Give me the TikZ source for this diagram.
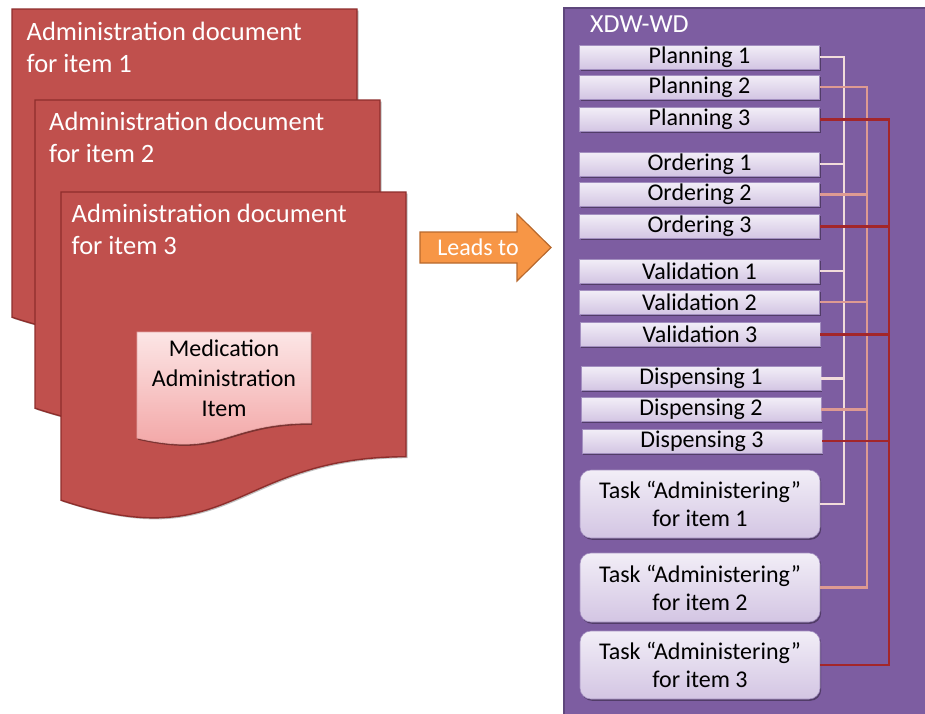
\documentclass[tikz,border=0pt]{standalone}
\usepackage{fontspec}
\setmainfont{Carlito}
\usetikzlibrary{shadows}
\definecolor{docred}{HTML}{C0504D}
\definecolor{docedge}{HTML}{8E2E2C}
\definecolor{panelfill}{HTML}{7D5DA1}
\definecolor{paneledge}{HTML}{5E477C}
\definecolor{itemtop}{HTML}{F2EEF7}
\definecolor{itembot}{HTML}{D3C5E3}
\definecolor{itemedge}{HTML}{A38FC0}
\definecolor{lineA}{HTML}{F2DCDB}
\definecolor{lineB}{HTML}{DE9A92}
\definecolor{lineC}{HTML}{A3262A}
\definecolor{arrfill}{HTML}{F79646}
\definecolor{arredge}{HTML}{B8682C}
\definecolor{medtop}{HTML}{FCE6E6}
\definecolor{medbot}{HTML}{F2A0A0}
\definecolor{mededge}{HTML}{E3A3A3}
\begin{document}
\begin{tikzpicture}[x=1pt,y=-1pt,
  docstyle/.style={fill=docred,draw=docedge,line width=1.4pt,
    drop shadow={shadow xshift=1.5pt,shadow yshift=-1.5pt,opacity=0.25,fill=black}},
  doctext/.style={anchor=north west,inner sep=0pt,align=left,text=white,
    font=\fontsize{26.5}{32}\selectfont},
  itembox/.style={draw=itemedge,line width=0.6pt,top color=itemtop,bottom color=itembot,
    minimum width=240pt,minimum height=24pt,inner sep=0pt,
    font=\fontsize{24}{28}\selectfont,
    drop shadow={shadow xshift=1.2pt,shadow yshift=-1.8pt,opacity=0.35,fill=black}},
  taskbox/.style={itembox,rounded corners=11pt,align=center,minimum height=68pt},
  busA/.style={draw=lineA,line width=2.1pt},
  busB/.style={draw=lineB,line width=2.1pt},
  busC/.style={draw=lineC,line width=2.1pt}]
\useasboundingbox (0,0) rectangle (925,713);
\begin{scope}
\clip (0,0) rectangle (925,713);

% ---------- left: administration documents ----------
\path[docstyle] (12,9) -- (357,9) -- (357,273.7)
  .. controls (184.5,273.7) and (184.5,374.6) .. (12,317.2) -- cycle;
\node[doctext] (d1) at (26.5,21.5) {Administration document\\for item 1};

\path[docstyle] (35,100) -- (380,100) -- (380,364.7)
  .. controls (207.5,364.7) and (207.5,465.6) .. (35,408.2) -- cycle;
\node[doctext] (d2) at (49,111.5) {Administration document\\for item 2};

\path[docstyle] (61,192) -- (406,192) -- (406,456.7)
  .. controls (233.5,456.7) and (233.5,557.6) .. (61,500.2) -- cycle;
\node[doctext] (d3) at (71.5,203.5) {Administration document\\for item 3};

% medication administration item
\path[draw=mededge,line width=0.6pt,top color=medtop,bottom color=medbot,
  drop shadow={shadow xshift=1.2pt,shadow yshift=-1.8pt,opacity=0.35,fill=black}]
  (137,332) -- (311,332) -- (311,423)
  .. controls (224,423) and (224,457.8) .. (137,438) -- cycle;
\node[align=center,inner sep=0pt,font=\fontsize{24}{30}\selectfont] (mi) at (224,378)
  {Medication\\Administration\\Item};

% ---------- arrow ----------
\path[fill=arrfill,draw=arredge,line width=1.2pt,line join=miter]
  (420,232) -- (517,232) -- (517,214) -- (551,247.5) -- (517,281) -- (517,263) -- (420,263) -- cycle;
\node[text=white,inner sep=0pt,font=\fontsize{24}{28}\selectfont] (lt) at (478,247) {Leads to};

% ---------- right: XDW-WD panel ----------
\fill[panelfill] (564,8) rectangle (940,730);
\draw[paneledge,line width=2pt] (564,730) -- (564,8) -- (940,8);
\node[anchor=base west,inner sep=0pt,text=white,font=\fontsize{26}{30}\selectfont] (xw) at (590,32) {XDW-WD};

\node[itembox] (P1) at (699.5,57) {Planning 1};
\node[itembox] (P2) at (699.5,87) {Planning 2};
\node[itembox] (P3) at (699.5,119.5) {Planning 3};
\node[itembox] (O1) at (699.5,164) {Ordering 1};
\node[itembox] (O2) at (699.5,194.5) {Ordering 2};
\node[itembox] (O3) at (699.5,226.5) {Ordering 3};
\node[itembox] (V1) at (699.5,271) {Validation 1};
\node[itembox] (V2) at (699.5,302) {Validation 2};
\node[itembox] (V3) at (700,334.5) {Validation 3};
\node[itembox] (D1) at (701,378.5) {Dispensing 1};
\node[itembox] (D2) at (701,409.5) {Dispensing 2};
\node[itembox] (D3) at (702,441) {Dispensing 3};
\node[taskbox] (T1) at (700,504) {Task “Administering”\\for item 1};
\node[taskbox,minimum height=69pt] (T2) at (700,587.5) {Task “Administering”\\for item 2};
\node[taskbox] (T3) at (700,665) {Task “Administering”\\for item 3};

% bus lines
\coordinate (bA) at (844,0);
\coordinate (bB) at (867,0);
\coordinate (bC) at (889,0);

\draw[busA] (P1.east) -- (P1.east -| bA) |- (T1.east);
\draw[busA] (O1.east) -- (O1.east -| bA);
\draw[busA] (V1.east) -- (V1.east -| bA);
\draw[busA] (D1.east) -- (D1.east -| bA);

\draw[busB] (P2.east) -- (P2.east -| bB) |- (T2.east);
\draw[busB] (O2.east) -- (O2.east -| bB);
\draw[busB] (V2.east) -- (V2.east -| bB);
\draw[busB] (D2.east) -- (D2.east -| bB);

\draw[busC] (P3.east) -- (P3.east -| bC) |- (T3.east);
\draw[busC] (O3.east) -- (O3.east -| bC);
\draw[busC] (V3.east) -- (V3.east -| bC);
\draw[busC] (D3.east) -- (D3.east -| bC);
\end{scope}
\end{tikzpicture}
\end{document}
